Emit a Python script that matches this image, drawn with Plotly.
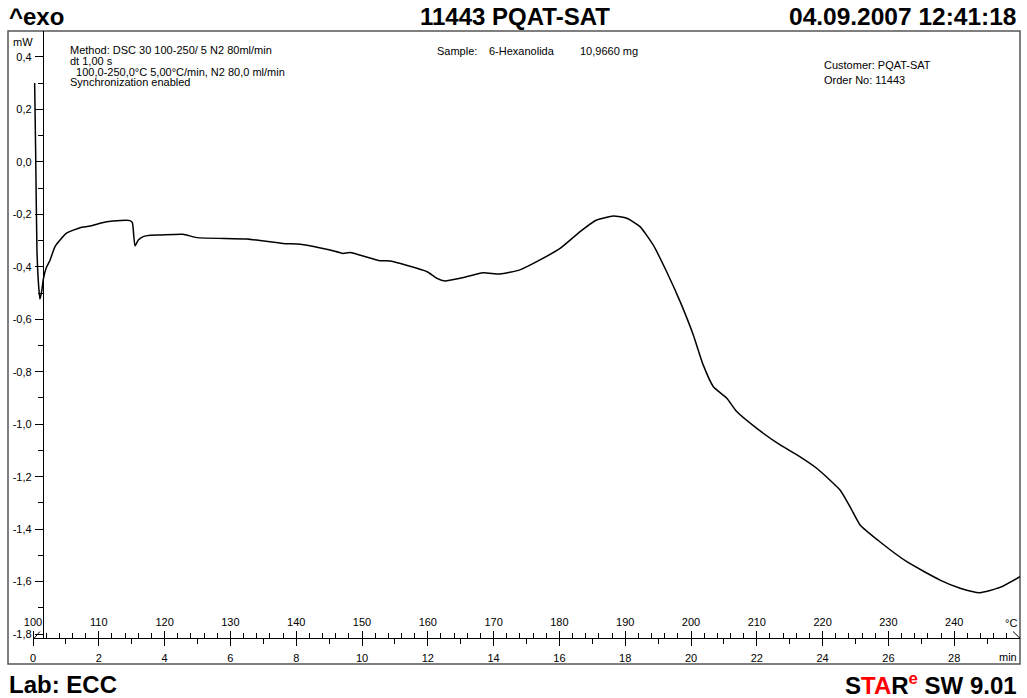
import plotly.graph_objects as go

# ---------------- data ----------------
time_min = [0.05, 0.08, 0.12, 0.17, 0.21, 0.27, 0.31, 0.40, 0.52, 0.67, 1.02, 1.43, 1.73, 2.04,
            2.43, 2.95, 3.02, 3.10, 3.20, 3.35, 3.56, 3.86, 4.56, 4.98, 6.50, 7.60, 8.12, 9.03,
            9.42, 9.64, 10.55, 10.85, 11.67, 11.98, 12.28, 12.52, 12.98, 13.68, 14.19, 14.80,
            15.41, 16.02, 16.63, 17.13, 17.64, 18.05, 18.45, 18.85, 19.26, 19.67, 20.07, 20.37,
            20.68, 21.09, 21.39, 22.00, 22.71, 23.21, 23.82, 24.53, 24.83, 25.14, 25.74, 26.56,
            27.57, 28.18, 28.78, 29.39, 30.00]
heat_flow_mw = [0.30, 0.045, -0.336, -0.47, -0.523, -0.49, -0.45, -0.405, -0.374, -0.323, -0.272,
                -0.251, -0.245, -0.234, -0.226, -0.224, -0.232, -0.32, -0.298, -0.285, -0.28,
                -0.279, -0.276, -0.289, -0.294, -0.311, -0.314, -0.336, -0.349, -0.346, -0.377,
                -0.378, -0.406, -0.419, -0.444, -0.454, -0.444, -0.423, -0.428, -0.412, -0.374,
                -0.330, -0.266, -0.222, -0.207, -0.215, -0.247, -0.317, -0.419, -0.533, -0.660,
                -0.774, -0.857, -0.901, -0.952, -1.016, -1.079, -1.116, -1.168, -1.251, -1.314,
                -1.384, -1.448, -1.524, -1.594, -1.625, -1.642, -1.622, -1.581]

y_tick_vals = [0.4, 0.2, 0.0, -0.2, -0.4, -0.6, -0.8, -1.0, -1.2, -1.4, -1.6, -1.8]
y_tick_text = ["0,4", "0,2", "0,0", "-0,2", "-0,4", "-0,6", "-0,8", "-1,0", "-1,2", "-1,4", "-1,6", "-1,8"]
y_minor_vals = [0.3, 0.1, -0.1, -0.3, -0.5, -0.7, -0.9, -1.1, -1.3, -1.5, -1.7]

time_tick_vals = [0, 2, 4, 6, 8, 10, 12, 14, 16, 18, 20, 22, 24, 26, 28]
time_tick_text = [str(v) for v in time_tick_vals]
time_minor_vals = [1, 3, 5, 7, 9, 11, 13, 15, 17, 19, 21, 23, 25, 27, 29]

temp_tick_vals = [100, 110, 120, 130, 140, 150, 160, 170, 180, 190, 200, 210, 220, 230, 240]
temp_tick_text = [str(v) for v in temp_tick_vals]
temp_minor_vals = [v for v in range(102, 250, 2) if v % 10 != 0]

# ---------------- geometry (pixels) ----------------
W, H = 1027, 698
L, R, T, B = 8, 1020, 31, 664
PW, PH = R - L, B - T


def px(x):
    return (x - L) / PW


def py(y):
    return (B - y) / PH


AXIS_Y = 638.3
YAXIS_X = 43
X0 = 33

FONT = "Liberation Sans, Arial, sans-serif"

fig = go.Figure()
fig.add_trace(go.Scatter(x=time_min, y=heat_flow_mw, mode="lines",
                         line=dict(color="black", width=1.5, shape="spline", smoothing=0.5),
                         xaxis="x", yaxis="y", showlegend=False, hoverinfo="skip"))
# invisible trace to activate temperature axis
fig.add_trace(go.Scatter(x=[100, 250], y=[None, None], mode="lines", xaxis="x2", yaxis="y",
                         showlegend=False, hoverinfo="skip"))

y_bottom = (161.8 - AXIS_Y) / 262.4
y_top = (161.8 - T) / 262.4

fig.update_layout(
    width=W, height=H,
    margin=dict(l=L, r=W - R, t=T, b=H - B, autoexpand=False),
    paper_bgcolor="white", plot_bgcolor="white",
    font=dict(family=FONT, size=11, color="black"),
    xaxis=dict(domain=[px(X0), 1], range=[0, 30], anchor="free", position=py(AXIS_Y),
               automargin=False,
               showgrid=False, zeroline=False, showline=True, linecolor="black", linewidth=1.3,
               tickmode="array", tickvals=time_tick_vals, ticktext=time_tick_text,
               ticks="outside", ticklen=7, tickwidth=1, tickcolor="black",
               tickfont=dict(family=FONT, size=11), ticklabelstandoff=2,
               minor=dict(tickmode="array", tickvals=time_minor_vals, ticks="outside",
                          ticklen=5, tickwidth=1, tickcolor="black", showgrid=False)),
    xaxis2=dict(domain=[px(X0), 1], range=[100, 250], anchor="free", position=py(AXIS_Y),
                overlaying="x", side="top", automargin=False,
                showgrid=False, zeroline=False, showline=False,
                tickmode="array", tickvals=temp_tick_vals, ticktext=temp_tick_text,
                ticks="outside", ticklen=7, tickwidth=1, tickcolor="black",
                tickfont=dict(family=FONT, size=11), ticklabelstandoff=1,
                minor=dict(tickmode="array", tickvals=temp_minor_vals, ticks="outside",
                           ticklen=5, tickwidth=1, tickcolor="black", showgrid=False)),
    yaxis=dict(domain=[py(AXIS_Y), 1], range=[y_bottom, y_top], anchor="free",
               position=px(YAXIS_X), automargin=False,
               showgrid=False, zeroline=False, showline=True, linecolor="black", linewidth=1.3,
               tickmode="array", tickvals=y_tick_vals, ticktext=y_tick_text,
               ticks="outside", ticklen=8, tickwidth=1, tickcolor="black",
               tickfont=dict(family=FONT, size=11), ticklabelstandoff=1,
               minor=dict(tickmode="array", tickvals=y_minor_vals, ticks="outside",
                          ticklen=5, tickwidth=1, tickcolor="black", showgrid=False)),
)

# frame
fig.add_shape(type="rect", xref="paper", yref="paper", x0=0, x1=1, y0=0, y1=1,
              line=dict(color="#555555", width=1.5), layer="below")
# axis-end marks
fig.add_shape(type="line", xref="paper", yref="paper", x0=px(34), y0=py(AXIS_Y),
              x1=px(40), y1=py(631.5), line=dict(color="black", width=1))
fig.add_shape(type="line", xref="paper", yref="paper", x0=px(1013), y0=py(631.5),
              x1=px(1020), y1=py(AXIS_Y), line=dict(color="black", width=1))


def ann(text, x, y, size=11, xanchor="left", bold=False, color="black", yanchor="middle"):
    fig.add_annotation(text=f"<b>{text}</b>" if bold else text, x=px(x), y=py(y),
                       xref="paper", yref="paper", showarrow=False, xanchor=xanchor,
                       yanchor=yanchor, font=dict(family=FONT, size=size, color=color))


# header / footer
ann("^exo", 7, 17, size=24, bold=True)
ann("11443 PQAT-SAT", 515, 17, size=24, bold=True, xanchor="center")
ann("04.09.2007 12:41:18", 1019, 17, size=24.5, bold=True, xanchor="right")
ann("Lab: ECC", 7, 684, size=24, bold=True)
fig.add_annotation(
    text="<b>S<span style='color:#ff0000'>TA</span>R<sup><span style='color:#ff0000'>e</span></sup> SW 9.01</b>",
    x=px(1019), y=py(684), xref="paper", yref="paper", showarrow=False,
    xanchor="right", yanchor="middle", font=dict(family=FONT, size=24, color="black"))

# info texts
INFO = 11
ann("Method: DSC 30 100-250/ 5 N2 80ml/min", 68, 50, size=INFO)
ann("dt 1,00 s", 68, 61, size=INFO)
ann("  100,0-250,0°C 5,00°C/min, N2 80,0 ml/min", 68, 71.5, size=INFO)
ann("Synchronization enabled", 68, 82, size=INFO)
ann("Sample:", 435, 51, size=INFO)
ann("6-Hexanolida", 487, 51, size=INFO)
ann("10,9660 mg", 578, 51, size=INFO)
ann("Customer: PQAT-SAT", 822, 65, size=INFO)
ann("Order No: 11443", 822, 80, size=INFO)

# axis units
ann("mW", 11, 42, size=11)
ann("°C", 1019, 623, size=11, xanchor="right")
ann("min", 1019, 657, size=11, xanchor="right")

fig.write_html("out.html")
